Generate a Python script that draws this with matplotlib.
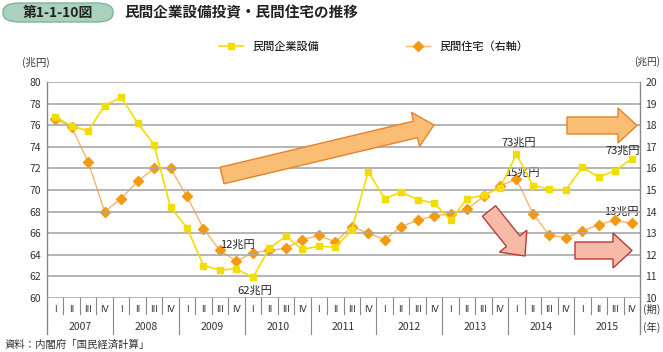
import matplotlib
matplotlib.use('Agg')
import matplotlib.pyplot as plt
from matplotlib.patches import FancyArrow, FancyBboxPatch
from matplotlib.lines import Line2D

plt.rcParams['font.family'] = ['Noto Sans CJK JP', 'DejaVu Sans']

# data (quarterly, 2007 Q1 - 2015 Q4)
years = ['2007', '2008', '2009', '2010', '2011', '2012', '2013', '2014', '2015']
quarters = ['I', 'II', 'III', 'IV']
capex = [76.8, 75.9, 75.5, 77.8, 78.6, 76.2, 74.2, 68.4,
         66.5, 63.0, 62.6, 62.7, 61.9, 64.6, 65.7, 64.5,
         64.8, 64.7, 66.3, 71.7, 69.2, 69.8, 69.1, 68.8,
         67.2, 69.2, 69.5, 70.2, 73.3, 70.4, 70.1, 70.0,
         72.1, 71.2, 71.8, 72.9]
housing = [18.3, 17.9, 16.3, 14.0, 14.6, 15.4, 16.0, 16.0,
           14.7, 13.2, 12.2, 11.7, 12.1, 12.2, 12.3, 12.7,
           12.9, 12.6, 13.3, 13.0, 12.7, 13.3, 13.6, 13.8,
           13.9, 14.1, 14.7, 15.2, 15.5, 13.9, 12.9, 12.8,
           13.1, 13.4, 13.6, 13.45]
left_ticks = list(range(60, 81, 2))
right_ticks = list(range(10, 21))

YELLOW = '#f2dd00'
ORANGE = '#f39a12'
ORANGE_LINE = '#f8b56a'
GRID = '#a8a8a8'

W, H = 663, 352
fig = plt.figure(figsize=(W / 100, H / 100), dpi=100)
ax = fig.add_axes([47 / W, 1 - 298 / H, 593 / W, 216 / H])
ax2 = ax.twinx()

x = list(range(len(capex)))

# grid
for t in left_ticks:
    ax.axhline(t, color=GRID, lw=1.2, zorder=1)

ax2.plot(x, housing, color=ORANGE_LINE, lw=1.0, marker='D', ms=5.5,
         mfc=ORANGE, mec=ORANGE, zorder=3)
ax.plot(x, capex, color=YELLOW, lw=1.2, marker='s', ms=5,
        mfc=YELLOW, mec=YELLOW, zorder=4)
ax.set_zorder(ax2.get_zorder() + 1)
ax.patch.set_visible(False)

ax.set_xlim(-0.5, len(x) - 0.5)
ax.set_ylim(60, 80)
ax2.set_ylim(10, 20)
ax.set_yticks(left_ticks)
ax2.set_yticks(right_ticks)
ax.set_xticks([])
for a in (ax, ax2):
    a.tick_params(axis='y', length=0, labelsize=7.5, colors='#333333', pad=4)
    for s in a.spines.values():
        s.set_visible(False)

# axis frame and category separators
tr = ax.get_xaxis_transform()
sep_q = -16 / 216
sep_y = -36 / 216
for xb in (-0.5, len(x) - 0.5):
    ax.plot([xb, xb], [1, sep_y], color='#888888', lw=1.0, transform=tr, clip_on=False)
for i in range(1, len(x)):
    bottom = sep_y if i % 4 == 0 else sep_q
    ax.plot([i - 0.5, i - 0.5], [0, bottom], color='#888888', lw=0.8,
            transform=tr, clip_on=False)
for i in x:
    ax.text(i, -11 / 216, quarters[i % 4], transform=tr, ha='center', va='center',
            fontsize=6.5, color='#333333', family='DejaVu Sans')
for k, yr in enumerate(years):
    ax.text(4 * k + 1.5, -29 / 216, yr, transform=tr, ha='center', va='center',
            fontsize=7.5, color='#333333')
ax.text(1.005, -11 / 216, '(期)', transform=ax.transAxes, ha='left', va='center',
        fontsize=7.5, color='#333333')
ax.text(1.005, -29 / 216, '(年)', transform=ax.transAxes, ha='left', va='center',
        fontsize=7.5, color='#333333')

# unit labels
fig.text(22 / W, 1 - 62 / H, '(兆円)', ha='left', va='center', fontsize=7.5, color='#333333')
fig.text(660 / W, 1 - 62 / H, '(兆円)', ha='right', va='center', fontsize=7, color='#333333')

# value labels
lab = dict(textcoords='offset pixels', ha='center', va='center', fontsize=8, color='#222222', zorder=6)
ax2.annotate('12兆円', (11, housing[11]), xytext=(1, 17), **lab)
ax.annotate('62兆円', (12, capex[12]), xytext=(2, -13), **lab)
ax.annotate('73兆円', (28, capex[28]), xytext=(2, 12), **lab)
ax2.annotate('15兆円', (28, housing[28]), xytext=(6, 7), **lab)
ax.annotate('73兆円', (35, capex[35]), xytext=(-9, 8), **lab)
ax2.annotate('13兆円', (35, housing[35]), xytext=(-10, 12), **lab)

# trend arrows (figure pixel space -> inches)
def arrow(x0, y0, x1, y1, fc, ec):
    a = FancyArrow(x0 / 100, (H - y0) / 100, (x1 - x0) / 100, (y0 - y1) / 100,
                   width=0.17, head_width=0.35, head_length=0.19,
                   length_includes_head=True, fc=fc, ec=ec, lw=1.0,
                   transform=fig.dpi_scale_trans, zorder=5)
    fig.patches.append(a)

arrow(222, 175.5, 434, 125, '#f9be74', '#e8802a')
arrow(567, 125.5, 637, 125.5, '#f9be74', '#e8802a')
arrow(489, 211, 525, 256, '#f8baa8', '#b83a3a')
arrow(575, 250.5, 632, 250.5, '#f8baa8', '#b83a3a')

# title
box = FancyBboxPatch((3 / W, 1 - 22 / H), 110 / W, 19 / H,
                     boxstyle='round,pad=0,rounding_size=0.025',
                     transform=fig.transFigure, fc='#a9d1be', ec='#7db59c', lw=1.0)
fig.patches.append(box)
fig.text(58 / W, 1 - 12.5 / H, '第1-1-10図', ha='center', va='center',
         fontsize=10, weight='bold', color='#222222')
fig.text(124 / W, 1 - 12.5 / H, '民間企業設備投資・民間住宅の推移', ha='left', va='center',
         fontsize=10.5, weight='bold', color='#222222')

# legend
handles = [Line2D([], [], color=YELLOW, lw=1.2, marker='s', ms=5, mfc=YELLOW, mec=YELLOW),
           Line2D([], [], color=ORANGE_LINE, lw=1.0, marker='D', ms=5.5, mfc=ORANGE, mec=ORANGE)]
fig.legend(handles, ['民間企業設備', '民間住宅（右軸）'], loc='center',
           bbox_to_anchor=(373.5 / W, 1 - 47 / H), ncol=2, frameon=False,
           fontsize=8, handlelength=2.2, columnspacing=7.8, handletextpad=0.8)

fig.text(5 / W, 1 - 345 / H, '資料：内閣府「国民経済計算」', ha='left', va='center',
         fontsize=7.5, color='#333333')

fig.savefig('out.png', dpi=100)
